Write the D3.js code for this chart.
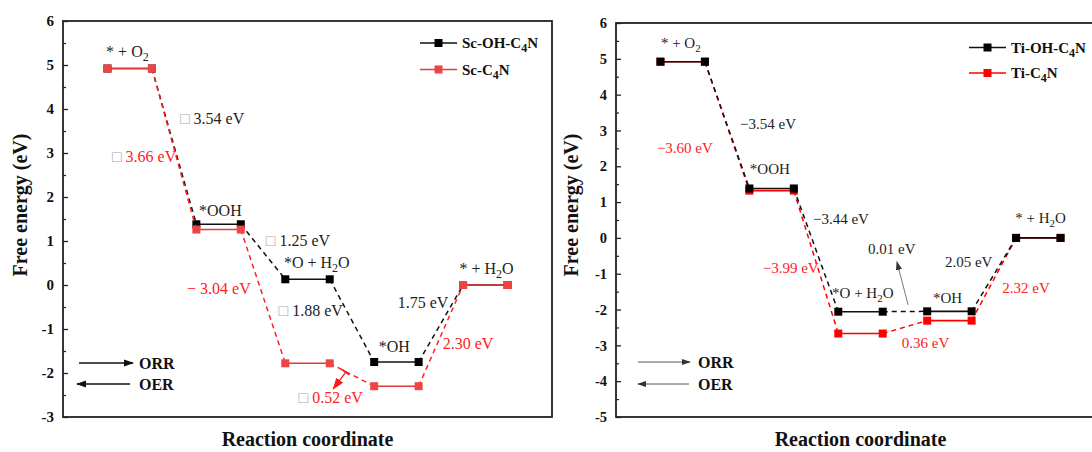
<!doctype html>
<html>
<head>
<meta charset="utf-8">
<script src="https://d3js.org/d3.v7.min.js"></script>
<style>
  body { margin: 0; background: #fff; }
  svg text { font-family: "Liberation Serif", "Times New Roman", serif; }
</style>
</head>
<body>
<div id="chart"></div>
<script>
// reaction states, one level per state
const steps = ["* + O_2", "*OOH", "*O + H_2O", "*OH", "* + H_2O"];

// Sc panel
const scNames = ["Sc-OH-C_4N", "Sc-C_4N"];
const scOH = [4.92, 1.38, 0.13, -1.75, 0];
const scC4N = [4.92, 1.26, -1.78, -2.30, 0];
const scTicks = [-3, -2, -1, 0, 1, 2, 3, 4, 5, 6];
const scSteps = ["□ 3.54 eV", "□ 1.25 eV", "□ 1.88 eV", "1.75 eV"];
const scStepsRed = ["□ 3.66 eV", "− 3.04 eV", "□ 0.52 eV", "2.30 eV"];

// Ti panel
const tiNames = ["Ti-OH-C_4N", "Ti-C_4N"];
const tiOH = [4.92, 1.38, -2.06, -2.05, 0];
const tiC4N = [4.92, 1.32, -2.67, -2.31, 0];
const tiTicks = [-5, -4, -3, -2, -1, 0, 1, 2, 3, 4, 5, 6];
const tiSteps = ["−3.54 eV", "−3.44 eV", "0.01 eV", "2.05 eV"];
const tiStepsRed = ["−3.60 eV", "−3.99 eV", "0.36 eV", "2.32 eV"];

const svg = d3.select("#chart").append("svg")
  .attr("width", 1092).attr("height", 452);

const defs = svg.append("defs");
function arrowMarker(id, color, size) {
  defs.append("marker").attr("id", id)
    .attr("viewBox", "0 0 10 10").attr("refX", 9).attr("refY", 5)
    .attr("markerUnits", "userSpaceOnUse")
    .attr("markerWidth", size).attr("markerHeight", size)
    .attr("orient", "auto")
    .append("path").attr("d", "M0,1.5 L10,5 L0,8.5 Z").attr("fill", color);
}
arrowMarker("ahBlack", "#111", 10);
arrowMarker("ahGrey", "#333", 9);
arrowMarker("ahRed", "#ff1a1a", 12);
defs.append("marker").attr("id", "tbarRed")
  .attr("viewBox", "0 0 10 10").attr("refX", 5).attr("refY", 5)
  .attr("markerUnits", "userSpaceOnUse")
  .attr("markerWidth", 9).attr("markerHeight", 9).attr("orient", "auto")
  .append("path").attr("d", "M5,0 L5,10").attr("stroke", "#ff1a1a").attr("stroke-width", 2);

// text with "_x" subscripts and the grey "□" glyph
function rich(t, str, subSize) {
  const parts = str.split(/(_\d|□)/).filter(p => p !== "");
  let shift = 0;
  parts.forEach(p => {
    if (p.startsWith("_")) {
      t.append("tspan").attr("dy", 4 - shift).attr("font-size", subSize).text(p.slice(1));
      shift = 4;
    } else {
      const ts = t.append("tspan").attr("dy", -shift);
      shift = 0;
      if (p === "□") ts.attr("fill", "#a8a8a8").attr("font-size", "1em").text("□");
      else ts.text(p);
    }
  });
}

function drawPanel(cfg) {
  const x = d3.scaleLinear().domain([0, 11]).range([cfg.left, cfg.right]);
  const y = d3.scaleLinear().domain(cfg.domain).range([cfg.bottom, cfg.top]);
  const g = svg.append("g");

  // axis ticks, inside
  const yAxis = g.append("g").attr("transform", `translate(${cfg.left},0)`)
    .call(d3.axisLeft(y).tickValues(cfg.ticks).tickSize(-5).tickPadding(9)
      .tickFormat(d => String(d)));
  yAxis.select(".domain").remove();
  yAxis.selectAll("line").attr("stroke", "#222").attr("stroke-width", 1.3);
  yAxis.selectAll("text").attr("font-weight", "bold")
    .attr("font-size", cfg.tickFont).attr("fill", "#111");
  const halves = cfg.ticks.slice(0, -1).map(d => d + 0.5);
  const minor = g.append("g").attr("transform", `translate(${cfg.left},0)`)
    .call(d3.axisLeft(y).tickValues(halves).tickSize(-3).tickFormat(""));
  minor.select(".domain").remove();
  minor.selectAll("line").attr("stroke", "#222").attr("stroke-width", 1.2);

  // frame
  g.append("rect").attr("x", cfg.left).attr("y", cfg.top)
    .attr("width", cfg.right - cfg.left).attr("height", cfg.bottom - cfg.top)
    .attr("fill", "none").attr("stroke", "#222").attr("stroke-width", 1.8);

  // axis titles
  g.append("text").attr("transform", `translate(${cfg.ytitleX},205) rotate(-90)`)
    .attr("text-anchor", "middle").attr("font-weight", "bold").attr("font-size", 20)
    .attr("fill", "#111").text("Free energy (eV)");
  g.append("text").attr("x", (cfg.left + cfg.right) / 2).attr("y", 446)
    .attr("text-anchor", "middle").attr("font-weight", "bold").attr("font-size", 20)
    .attr("fill", "#111").text("Reaction coordinate");

  // energy levels and dashed connectors
  function series(vals, col, lineCol, dashCol) {
    const s = g.append("g");
    vals.forEach((v, i) => {
      if (i < vals.length - 1) {
        s.append("line")
          .attr("x1", x(2 * i + 2)).attr("y1", y(v))
          .attr("x2", x(2 * i + 3)).attr("y2", y(vals[i + 1]))
          .attr("stroke", dashCol).attr("stroke-width", 1.5)
          .attr("stroke-dasharray", "5,4");
      }
    });
    vals.forEach((v, i) => {
      s.append("line")
        .attr("x1", x(2 * i + 1)).attr("y1", y(v))
        .attr("x2", x(2 * i + 2)).attr("y2", y(v))
        .attr("stroke", lineCol).attr("stroke-width", 1.6);
      [2 * i + 1, 2 * i + 2].forEach(xi => {
        s.append("rect").attr("x", x(xi) - 4).attr("y", y(v) - 4)
          .attr("width", 8).attr("height", 8).attr("fill", col);
      });
    });
  }
  cfg.order.forEach(k => {
    if (k === "black") series(cfg.black, "#000", "#111", "#111");
    else series(cfg.red, cfg.redMark, cfg.redLine, cfg.redDash);
  });

  // legend
  cfg.names.forEach((n, i) => {
    const ly = cfg.legY + i * cfg.legGap;
    const c = i === 0 ? "#000" : cfg.redMark;
    g.append("line").attr("x1", cfg.legX).attr("x2", cfg.legX + 37)
      .attr("y1", ly).attr("y2", ly).attr("stroke", i === 0 ? "#111" : cfg.redLine)
      .attr("stroke-width", 1.4);
    g.append("rect").attr("x", cfg.legX + 14.5).attr("y", ly - 4)
      .attr("width", 8).attr("height", 8).attr("fill", c);
    const t = g.append("text").attr("x", cfg.legX + 42).attr("y", ly + 5)
      .attr("font-weight", "bold").attr("font-size", 15).attr("fill", "#111");
    rich(t, n, 12);
  });

  // annotations (data coordinates)
  cfg.notes.forEach(a => {
    const t = g.append("text").attr("x", x(a[1])).attr("y", y(a[2]))
      .attr("font-size", cfg.noteFont).attr("fill", a[3] || "#222");
    rich(t, a[0], cfg.noteFont - 4);
  });

  // ORR / OER direction arrows
  cfg.dir.forEach((d, i) => {
    const yy = d.y;
    g.append("line").attr("x1", d.x1).attr("x2", d.x2).attr("y1", yy).attr("y2", yy)
      .attr("stroke", cfg.dirCol).attr("stroke-width", cfg.dirW)
      .attr("marker-end", `url(#${cfg.dirMarker})`);
    g.append("text").attr("x", d.tx).attr("y", yy + 6)
      .attr("font-weight", "bold").attr("font-size", 16).attr("fill", "#111")
      .text(i === 0 ? "ORR" : "OER");
  });

  return { x, y, g };
}

// ---- Sc panel ----
const sc = drawPanel({
  left: 63, right: 552, top: 21, bottom: 417, domain: [-3, 6], ticks: scTicks,
  tickFont: 15, ytitleX: 27,
  black: scOH, red: scC4N, order: ["black", "red"],
  redMark: "#ef4444", redLine: "#e03a3a", redDash: "#ff2020",
  names: scNames, legX: 420, legY: 43, legGap: 26.5,
  noteFont: 16,
  notes: [
    [steps[0], 0.97, 5.18], [scSteps[0], 2.63, 3.66], [scStepsRed[0], 1.10, 2.80, "#ff2020"],
    [steps[1], 3.06, 1.57], [scSteps[1], 4.56, 0.89], [steps[2], 4.97, 0.39],
    [scStepsRed[1], 2.79, -0.20, "#ff2020"], [scSteps[2], 4.85, -0.70],
    [steps[3], 7.10, -1.53], [scSteps[3], 7.53, -0.52], [steps[4], 8.92, 0.24],
    [scStepsRed[3], 8.54, -1.46, "#ff2020"], [scStepsRed[2], 5.30, -2.68, "#ff2020"]
  ],
  dir: [{ x1: 79, x2: 133, y: 363, tx: 139 }, { x1: 130, x2: 77, y: 384, tx: 139 }],
  dirCol: "#111", dirW: 1.3, dirMarker: "ahBlack"
});
sc.g.append("line")
  .attr("x1", sc.x(6.36)).attr("y1", sc.y(-1.98))
  .attr("x2", sc.x(6.08)).attr("y2", sc.y(-2.36))
  .attr("stroke", "#ff1a1a").attr("stroke-width", 1.3)
  .attr("marker-start", "url(#tbarRed)").attr("marker-end", "url(#ahRed)");

// ---- Ti panel ----
const ti = drawPanel({
  left: 616, right: 1105, top: 23, bottom: 417, domain: [-5, 6], ticks: tiTicks,
  tickFont: 14.5, ytitleX: 578,
  black: tiOH, red: tiC4N, order: ["red", "black"],
  redMark: "#ff0000", redLine: "#ff0000", redDash: "#ff0000",
  names: tiNames, legX: 969, legY: 47.5, legGap: 25.5,
  noteFont: 15,
  notes: [
    [steps[0], 1.01, 5.30], [tiSteps[0], 2.79, 3.04], [tiStepsRed[0], 0.92, 2.37, "#ff2020"],
    [steps[1], 3.01, 1.78], [tiSteps[1], 4.43, 0.39], [tiStepsRed[1], 3.30, -0.97, "#ff2020"],
    [steps[2], 4.86, -1.68], [tiSteps[2], 5.67, -0.45], [steps[3], 7.13, -1.82],
    [tiSteps[3], 7.40, -0.80], [tiStepsRed[3], 8.69, -1.53, "#ff2020"],
    [tiStepsRed[2], 6.43, -3.06, "#ff2020"], [steps[4], 8.98, 0.41]
  ],
  dir: [{ x1: 638, x2: 690, y: 362, tx: 698 }, { x1: 689, x2: 638, y: 384, tx: 698 }],
  dirCol: "#444", dirW: 0.9, dirMarker: "ahGrey"
});
ti.g.append("line")
  .attr("x1", ti.x(6.57)).attr("y1", ti.y(-1.87))
  .attr("x2", ti.x(6.32)).attr("y2", ti.y(-0.67))
  .attr("stroke", "#555").attr("stroke-width", 0.8)
  .attr("marker-end", "url(#ahGrey)");
</script>
</body>
</html>
